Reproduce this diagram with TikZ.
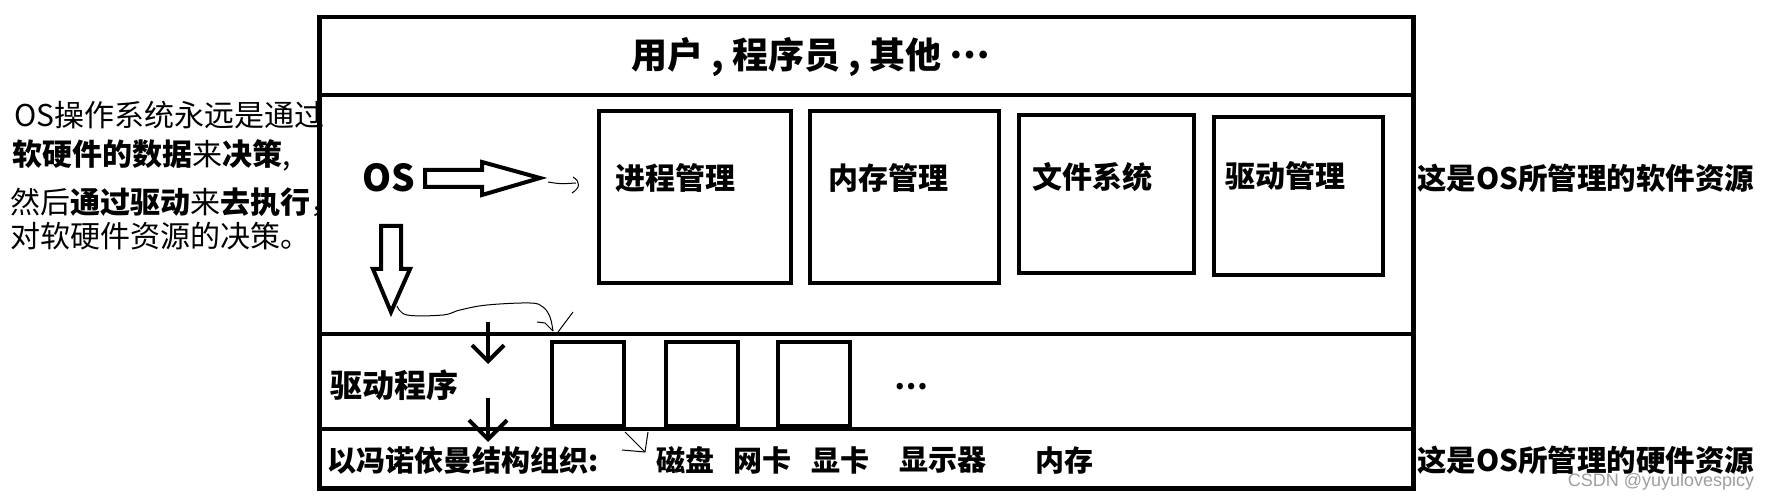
\documentclass[tikz,border=0pt]{standalone}
\usepackage{fontspec}
\newfontfamily\cjk{Noto Sans CJK SC}
\newfontfamily\wmfont{Liberation Sans}
\usetikzlibrary{arrows.meta}
\newcommand{\fs}[1]{\fontsize{#1}{#1}\selectfont}
\begin{document}
\begin{tikzpicture}[x=1pt,y=-1pt,
  outerbox/.style={draw, line width=4.5pt, anchor=north west, inner sep=0pt},
  procbox/.style={draw, line width=4pt, anchor=north west, inner sep=0pt},
  drvbox/.style={draw, line width=3.5pt, anchor=north west, inner sep=0pt, minimum width=72pt, minimum height=84pt},
  divider/.style={line width=4pt},
  hollow/.style={draw, line width=4pt, line join=miter, fill=white},
  thinarrow/.style={line width=4pt, -{Straight Barb[length=16pt,width=32pt]}},
  scribble/.style={line width=1pt},
  lbl/.style={font=\cjk\bfseries\fs{30}, inner sep=0pt, anchor=west},
  sidetxt/.style={font=\cjk\fs{30}, inner sep=0pt, anchor=west},
  hwtxt/.style={font=\cjk\bfseries\fs{29}, inner sep=0pt}]
\useasboundingbox (0,0) rectangle (1768,502);

% outer frame and dividers
\node[outerbox, minimum width=1094pt, minimum height=471pt] (outer) at (317,15) {};
\draw[divider] (outer.west |- 0,95) -- (outer.east |- 0,95);
\draw[divider] (outer.west |- 0,334) -- (outer.east |- 0,334);
\draw[divider] (outer.west |- 0,429) -- (outer.east |- 0,429);

% title
\node[font=\cjk\bfseries\fs{36}, inner sep=0pt, anchor=west] (title) at (631,57) {用户 , 程序员 , 其他 \raisebox{0.28em}{…}};

% OS and software management boxes
\node[font=\cjk\bfseries\fs{37}, inner sep=0pt] (os) at (389,178) {OS};
\node[procbox, minimum width=192pt, minimum height=172pt] (p1) at (597,109) {};
\node[procbox, minimum width=189pt, minimum height=172pt] (p2) at (808,109) {};
\node[procbox, minimum width=175pt, minimum height=158pt] (p3) at (1017,113) {};
\node[procbox, minimum width=169pt, minimum height=158pt] (p4) at (1212,115) {};
\node[lbl] (l1) at (615,178) {进程管理};
\node[lbl] (l2) at (828,178) {内存管理};
\node[lbl] (l3) at (1032,177) {文件系统};
\node[lbl] (l4) at (1225,176) {驱动管理};

% hollow arrows
\draw[hollow] (425,170) -- (482,170) -- (482,162) -- (540,178) -- (482,195) -- (482,187) -- (425,187) -- cycle;
\draw[hollow] (381,226) -- (401,226) -- (401,269) -- (410,269) -- (391,312) -- (373,269) -- (381,269) -- cycle;

% scribbles
\coordinate (s1a) at (548,182);
\coordinate (s1b) at (576,183);
\draw[scribble] (s1a) .. controls (560,184) .. (s1b);
\draw[scribble] (573,177) .. controls (581,182) and (580,188) .. (572,193);
\coordinate (s2a) at (397,306);
\coordinate (s2b) at (553,331);
\draw[scribble] plot[smooth, tension=0.6] coordinates {(s2a) (407,315) (443,315) (460,310) (487,305) (530,303) (543,307) (550,317) (s2b)};
\draw[scribble] (537,322) -- (545,323) -- (s2b);
\draw[scribble] (573,312) -- (558,332);
\coordinate (s3a) at (625,432);
\coordinate (s3b) at (645,452);
\draw[scribble] (s3a) -- (s3b);
\draw[scribble] (648,432) -- (s3b);
\draw[scribble] (622,450) -- (s3b);

% driver row
\node[lbl, font=\cjk\bfseries\fs{32}] (drv) at (330,385) {驱动程序};
\node[drvbox] (d1) at (550,340) {};
\node[drvbox] (d2) at (664,340) {};
\node[drvbox] (d3) at (776,340) {};
\node[font=\cjk\bfseries\fs{30}, inner sep=0pt] (dots) at (911,387) {…};

% thin down arrows
\coordinate (a1s) at (488,322);
\coordinate (a1e) at (488,364);
\coordinate (a2s) at (488,398);
\coordinate (a2e) at (488,442);
\draw[thinarrow] (a1s) -- (a1e);
\draw[thinarrow, -{Straight Barb[length=19pt,width=38pt]}] (a2s) -- (a2e);

% hardware row
\node[lbl, font=\cjk\bfseries\fs{29}] (vn) at (327,460) {以冯诺依曼结构组织:};
\node[hwtxt] (h1) at (685,460) {磁盘};
\node[hwtxt] (h2) at (762,460) {网卡};
\node[hwtxt] (h3) at (840,460) {显卡};
\node[hwtxt] (h4) at (943,460) {显示器};
\node[hwtxt] (h5) at (1064,460) {内存};

% right labels
\node[lbl, font=\cjk\bfseries\fs{29.5}] (sw) at (1417,178) {这是OS所管理的软件资源};
\node[lbl, font=\cjk\bfseries\fs{29.5}] (hw) at (1417,460) {这是OS所管理的硬件资源};

% left text
\node[sidetxt] (t1) at (14,115) {OS操作系统永远是通过};
\node[sidetxt] (t2) at (12,155) {{\bfseries 软硬件的数据}来{\bfseries 决策},};
\node[sidetxt] (t3) at (10,202) {然后{\bfseries 通过驱动}来{\bfseries 去执行}，};
\node[sidetxt] (t4) at (10,236) {对软硬件资源的决策。};

% watermark
\node[font=\wmfont\fs{18}, text=black!38, inner sep=0pt] (wm) at (1661,482) {CSDN @yuyulovespicy};
\end{tikzpicture}
\end{document}
